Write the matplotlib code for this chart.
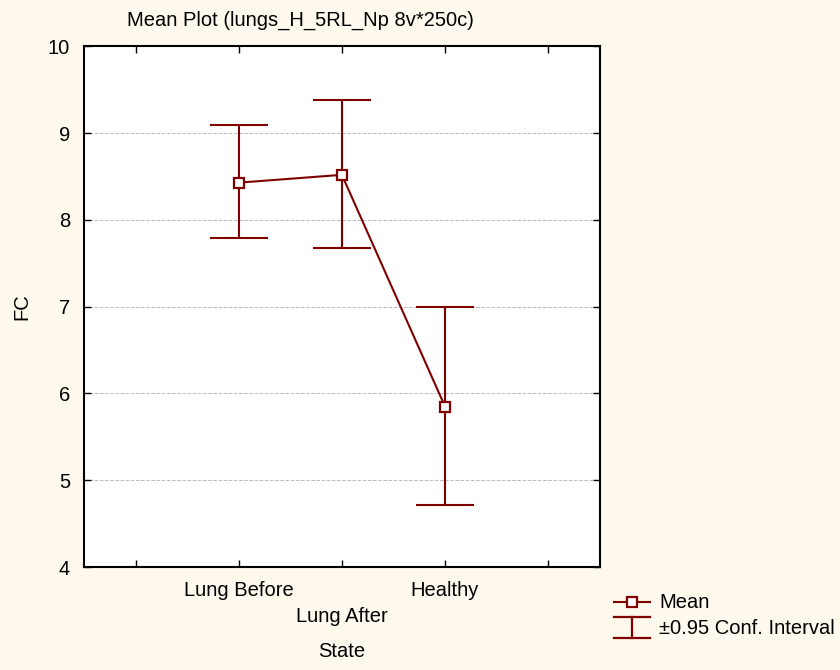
import matplotlib.pyplot as plt
from matplotlib.lines import Line2D

plt.rcParams["font.family"] = ["Liberation Sans", "DejaVu Sans"]

states = ["Lung Before", "Lung After", "Healthy"]
means = [8.43, 8.52, 5.85]
ci_low = [7.79, 7.68, 4.72]
ci_high = [9.09, 9.38, 7.00]

red = "#800000"
bg = "#fef9ec"
fs = 14.5

fig = plt.figure(figsize=(8.4, 6.7), dpi=100, facecolor=bg)
ax = fig.add_axes([0.1, 0.1537, 0.614, 0.777])
ax.set_facecolor("white")

x = list(range(1, len(states) + 1))
err = [[m - lo for m, lo in zip(means, ci_low)], [hi - m for m, hi in zip(means, ci_high)]]
ax.errorbar(x, means, yerr=err, fmt="none", ecolor=red, elinewidth=1.5,
            capsize=21, capthick=1.5, zorder=3)
ax.plot(x, means, color=red, lw=1.5, marker="s", ms=7, mfc="white",
        mec=red, mew=1.6, zorder=4)

ax.set_xlim(-0.5, 4.5)
ax.set_ylim(4, 10)
ax.set_xticks([0, 1, 2, 3, 4])
labels = [""] + [s if i % 2 == 0 else "\n" + s for i, s in enumerate(states)] + [""]
ax.set_xticklabels(labels, fontsize=fs, linespacing=1.45)
ax.set_yticks(range(4, 11))
ax.tick_params(axis="y", labelsize=fs)
ax.tick_params(direction="in", top=True, right=True, length=5, width=1, pad=10)
ax.grid(axis="y", linestyle="--", color="#bbbbbb", lw=0.7)
for s in ax.spines.values():
    s.set_linewidth(1.5)

ax.set_xlabel("State", fontsize=fs, labelpad=12)
ax.set_ylabel("FC", fontsize=fs, labelpad=12)
fig.text(0.151, 0.969, "Mean Plot (lungs_H_5RL_Np 8v*250c)", fontsize=fs, va="center")

# legend drawn by hand, outside the axes
fig.add_artist(Line2D([0.731, 0.774], [0.101, 0.101], color=red, lw=1.5))
fig.add_artist(Line2D([0.7525], [0.101], color=red, marker="s", ms=7,
                      mfc="white", mec=red, mew=1.6, lw=0))
fig.add_artist(Line2D([0.731, 0.774], [0.079, 0.079], color=red, lw=1.6))
fig.add_artist(Line2D([0.731, 0.774], [0.048, 0.048], color=red, lw=1.6))
fig.add_artist(Line2D([0.7525, 0.7525], [0.048, 0.079], color=red, lw=1.6))
fig.text(0.785, 0.101, "Mean", fontsize=fs, va="center")
fig.text(0.785, 0.062, "±0.95 Conf. Interval", fontsize=fs, va="center")

fig.savefig("out.png", dpi=100, facecolor=bg)
